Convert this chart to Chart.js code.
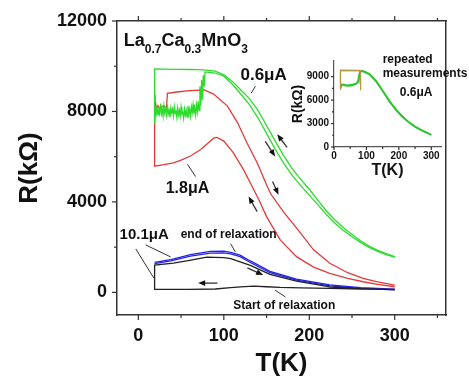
<!DOCTYPE html>
<html>
<head>
<meta charset="utf-8">
<script src="https://cdn.jsdelivr.net/npm/chart.js@4.4.1/dist/chart.umd.min.js"></script>
<style>
  body { margin: 0; background: #fff; }
  #wrap { position: relative; width: 469px; height: 377px; }
  #main { position: absolute; left: 0; top: 0; }
  #inset { position: absolute; left: 285px; top: 50px; }
</style>
</head>
<body>
<div id="wrap">
  <canvas id="main" width="469" height="377"></canvas>
  <canvas id="inset" width="184" height="135"></canvas>
</div>
<script>
// ---- values: T in K, R in kOhm ----
const xTicks = [0, 100, 200, 300];
const xMinor = [50, 150, 250, 350];
const yTicks = [0, 4000, 8000, 12000];
const yMinor = [2000, 6000, 10000];

// 0.6 uA, outer branch (300 K down to 19 K, then the drop)
const greenOuterT = [300, 290, 280, 270, 260, 250, 240, 230, 220, 210, 200, 190, 180, 170, 160, 150, 140, 130, 120, 110, 100, 90, 80, 70, 60, 50, 40, 30, 19, 19];
const greenOuterR = [1580, 1710, 1860, 2050, 2280, 2560, 2860, 3200, 3600, 4080, 4560, 5000, 5470, 6050, 6700, 7380, 8050, 8570, 8950, 9330, 9620, 9780, 9830, 9850, 9855, 9860, 9865, 9870, 9880, 7450];
// 0.6 uA, noisy low-T part
const greenNoiseT = [19, 20, 21, 22, 23, 24, 25, 26, 27, 28, 29, 30, 31, 32, 33, 34, 35, 36, 37, 38, 39, 40, 41, 42, 43, 44, 45, 46, 47, 48, 49, 50, 51, 52, 53, 54, 55, 56, 57, 58, 59, 60, 61, 62, 63, 64, 65, 66, 67, 68, 69, 70, 71, 72, 73, 74, 75, 76, 77, 78];
const greenNoiseR = [7450, 8250, 7900, 8150, 7850, 8200, 7950, 8350, 7900, 8100, 7800, 8250, 7950, 8100, 7850, 8300, 7900, 8050, 7750, 8150, 7950, 8100, 7800, 8200, 7900, 8050, 7750, 8150, 7850, 8050, 7800, 8200, 7900, 7950, 7700, 8100, 7850, 8050, 7750, 8250, 7900, 8100, 7800, 8200, 7950, 8300, 7900, 8150, 7850, 8300, 8000, 8450, 8050, 9100, 8250, 9400, 8500, 9600, 9100, 9750];
// 0.6 uA, inner branch back up to 300 K
const greenInnerT = [85, 90, 100, 110, 120, 130, 140, 150, 160, 170, 180, 190, 200, 210, 220, 230, 240, 250, 260, 270, 280, 290, 300];
const greenInnerR = [9720, 9700, 9560, 9200, 8760, 8300, 7720, 7030, 6340, 5720, 5170, 4720, 4300, 3880, 3440, 3060, 2740, 2460, 2210, 1990, 1810, 1670, 1560];

// 1.8 uA
const redUpperT = [300, 280, 263, 245, 224, 205, 185, 170, 155, 150, 139, 127, 116, 104, 88, 77, 60, 45, 34, 33, 31, 29, 27, 25, 23, 21, 20, 19.5, 19, 19];
const redUpperR = [320, 460, 620, 870, 1290, 1880, 2850, 3550, 4350, 4760, 5730, 6620, 7510, 8250, 8770, 8950, 8920, 8860, 8800, 8200, 8150, 8250, 8200, 8100, 8250, 8150, 8400, 8750, 8600, 5580];
const redLowerT = [19, 30, 41, 50, 61, 73, 80, 88, 92, 100, 111, 123, 135, 141, 150, 166, 185, 205, 224, 245, 263, 280, 300];
const redLowerR = [5580, 5650, 5730, 5850, 6030, 6320, 6550, 6820, 6850, 6690, 6180, 5430, 4550, 4100, 3350, 2320, 1580, 1120, 840, 620, 470, 350, 250];

// 10.1 uA
const blueT = [19, 38, 61, 84, 100, 108, 119, 131, 154, 185, 224, 260, 300];
const blueAR = [1330, 1450, 1670, 1810, 1820, 1770, 1650, 1390, 930, 590, 330, 210, 140];
const blueBR = [1270, 1390, 1600, 1740, 1750, 1700, 1580, 1320, 870, 540, 290, 180, 110];

// relaxation (black)
const blackLowT = [300, 260, 224, 190, 166, 150, 135, 120, 108, 90, 60, 40, 19, 19];
const blackLowR = [130, 150, 180, 200, 220, 250, 280, 240, 210, 150, 130, 130, 130, 1210];
const blackHighT = [41, 60, 80, 100, 108, 120, 131, 154, 185, 224, 260, 300];
const blackHighR = [1290, 1420, 1560, 1540, 1490, 1340, 1190, 800, 500, 240, 160, 120];

// inset: repeated measurements at 0.6 uA
const insetXTicks = [0, 100, 200, 300];
const insetXMinor = [50, 150, 250];
const insetYTicks = [0, 3000, 6000, 9000];
const insetYMinor = [1500, 4500, 7500];
const insetAT = [300, 280, 260, 240, 220, 200, 180, 160, 140, 120, 100, 90, 80, 60, 40, 20, 20, 23, 26, 30, 35, 40, 45, 50, 55, 60, 65, 70, 74, 77, 80];
const insetAR = [1600, 1900, 2300, 2850, 3550, 4450, 5450, 6600, 7900, 9000, 9600, 9720, 9740, 9740, 9740, 9740, 7300, 8050, 7900, 8000, 7800, 7850, 7800, 7850, 7800, 7900, 8000, 8200, 8600, 8300, 9700];
const insetBT = [20, 25, 30, 35, 40, 45, 50, 55, 60, 65, 70, 75, 78, 82, 90, 110, 130, 150, 170, 190, 210, 230, 250, 270, 300];
const insetBR = [7600, 7950, 8000, 7900, 7900, 7850, 7950, 7900, 8000, 8050, 8150, 8400, 9300, 9700, 9680, 9300, 8400, 7200, 5900, 4800, 3900, 3200, 2600, 2150, 1550];
const insetCT = [20, 20, 82, 82];
const insetCR = [7400, 9820, 9800, 7250];

const pts = (T, R) => T.map((t, i) => ({ x: t, y: R[i] }));
const FONT = '"Liberation Sans", Arial, sans-serif';

// draws tick marks, arrows, pointer lines and text labels in data coordinates
const extras = {
  id: 'extras',
  afterDraw(chart, args, opts) {
    const ctx = chart.ctx;
    const a = chart.chartArea;
    const px = v => chart.scales.x.getPixelForValue(v);
    const py = v => chart.scales.y.getPixelForValue(v);
    ctx.save();
    ctx.strokeStyle = '#333';
    ctx.fillStyle = '#111';
    ctx.lineWidth = 1.2;
    (opts.ticks || []).forEach(t => {
      t.values.forEach(v => {
        ctx.beginPath();
        if (t.side === 'bottom') { ctx.moveTo(px(v), a.bottom); ctx.lineTo(px(v), a.bottom + t.len); }
        if (t.side === 'top') { ctx.moveTo(px(v), a.top); ctx.lineTo(px(v), a.top - t.len); }
        if (t.side === 'left') { ctx.moveTo(a.left, py(v)); ctx.lineTo(a.left - t.len, py(v)); }
        ctx.stroke();
      });
    });
    ctx.lineWidth = 1;
    (opts.leaders || []).forEach(l => {
      ctx.beginPath();
      ctx.moveTo(px(l[0]), py(l[1]));
      ctx.lineTo(px(l[2]), py(l[3]));
      ctx.stroke();
    });
    ctx.lineWidth = 1.3;
    (opts.arrows || []).forEach(l => {
      const x0 = px(l[0]), y0 = py(l[1]), x1 = px(l[2]), y1 = py(l[3]);
      const ang = Math.atan2(y1 - y0, x1 - x0);
      ctx.beginPath();
      ctx.moveTo(x0, y0);
      ctx.lineTo(x1 - 4 * Math.cos(ang), y1 - 4 * Math.sin(ang));
      ctx.stroke();
      ctx.beginPath();
      ctx.moveTo(x1, y1);
      ctx.lineTo(x1 - 7 * Math.cos(ang) + 2.8 * Math.sin(ang), y1 - 7 * Math.sin(ang) - 2.8 * Math.cos(ang));
      ctx.lineTo(x1 - 7 * Math.cos(ang) - 2.8 * Math.sin(ang), y1 - 7 * Math.sin(ang) + 2.8 * Math.cos(ang));
      ctx.closePath();
      ctx.fill();
    });
    ctx.textBaseline = 'alphabetic';
    ctx.textAlign = 'left';
    (opts.texts || []).forEach(t => {
      let x = px(t.x);
      const y = py(t.y);
      t.parts.forEach(p => {
        ctx.font = 'bold ' + (p.sub ? t.sub : t.size) + 'px ' + FONT;
        ctx.fillText(p.t, x, y + (p.sub ? t.drop : 0));
        x += ctx.measureText(p.t).width;
      });
    });
    ctx.restore();
  }
};

const frame = { color: '#333', width: 1.5 };
const noGrid = { display: false, drawTicks: false };

new Chart(document.getElementById('main'), {
  type: 'line',
  data: {
    datasets: [
      { data: pts(greenOuterT, greenOuterR), borderColor: '#2bdc2b' },
      { data: pts(greenNoiseT, greenNoiseR).concat(pts(greenInnerT, greenInnerR)), borderColor: '#2bdc2b' },
      { data: pts(redUpperT, redUpperR).concat(pts(redLowerT, redLowerR)), borderColor: '#e63a3a' },
      { data: pts(blackLowT, blackLowR).concat(pts(blackHighT, blackHighR)), borderColor: '#222' },
      { data: pts(blueT, blueAR), borderColor: '#2323e0' },
      { data: pts(blueT, blueBR), borderColor: '#2323e0' }
    ]
  },
  options: {
    responsive: false,
    animation: false,
    layout: { padding: 0 },
    elements: { point: { radius: 0 }, line: { tension: 0, borderWidth: 1.3, fill: false } },
    plugins: {
      legend: { display: false },
      tooltip: { enabled: false },
      extras: {
        ticks: [
          { side: 'bottom', values: xTicks, len: 5 },
          { side: 'bottom', values: xMinor, len: 3 },
          { side: 'top', values: xTicks, len: 5 },
          { side: 'top', values: xMinor, len: 3 },
          { side: 'left', values: yTicks, len: 5 },
          { side: 'left', values: yMinor, len: 3 }
        ],
        leaders: [
          [137, 9120, 132, 8810],
          [57.5, 5660, 67, 5120],
          [-3, 1920, 18, 640],
          [8.5, 2100, 37.7, 1570],
          [108, 2150, 113.5, 1790],
          [160, 100, 172, -200]
        ],
        arrows: [
          [174, 6410, 162.5, 6990],
          [148.5, 6680, 160, 6010],
          [139, 3570, 129, 4240],
          [157, 4900, 164, 4320],
          [127.5, 1080, 146, 770],
          [92.5, 410, 70, 410]
        ],
        texts: [
          { x: -17, y: 10900, size: 18, sub: 12, drop: 7, parts: [{ t: 'La' }, { t: '0.7', sub: true }, { t: 'Ca' }, { t: '0.3', sub: true }, { t: 'MnO' }, { t: '3', sub: true }] },
          { x: 119.5, y: 9400, size: 17, parts: [{ t: '0.6\u03bcA' }] },
          { x: 32, y: 4400, size: 16, parts: [{ t: '1.8\u03bcA' }] },
          { x: -22, y: 2370, size: 15, parts: [{ t: '10.1\u03bcA' }] },
          { x: 49.5, y: 2400, size: 12, parts: [{ t: 'end of relaxation' }] },
          { x: 111, y: -750, size: 12, parts: [{ t: 'Start of relaxation' }] }
        ]
      }
    },
    scales: {
      x: {
        type: 'linear', position: 'bottom', min: -25, max: 360,
        afterFit: s => { s.height = 62; },
        afterBuildTicks: s => { s.ticks = xTicks.map(v => ({ value: v })); },
        grid: noGrid, border: frame,
        ticks: { color: '#111', padding: 10, maxRotation: 0, font: { family: FONT, size: 18, weight: 'bold' }, callback: v => String(v) },
        title: { display: true, text: 'T(K)', color: '#111', padding: { top: 0, bottom: 0 }, font: { family: FONT, size: 26, weight: 'bold', lineHeight: 1 } }
      },
      x2: {
        type: 'linear', position: 'top', min: -25, max: 360,
        afterFit: s => { s.height = 21; },
        grid: noGrid, border: frame, ticks: { display: false }
      },
      y: {
        type: 'linear', position: 'left', min: -1000, max: 12000,
        afterFit: s => { s.width = 117; },
        afterBuildTicks: s => { s.ticks = yTicks.map(v => ({ value: v })); },
        grid: noGrid, border: frame,
        ticks: { color: '#111', padding: 10, font: { family: FONT, size: 18, weight: 'bold' }, callback: v => String(v) },
        title: { display: true, text: 'R(k\u03a9)', color: '#111', padding: { top: 17, bottom: 0 }, font: { family: FONT, size: 26, weight: 'bold', lineHeight: 1 } }
      },
      y2: {
        type: 'linear', position: 'right', min: -1000, max: 12000,
        afterFit: s => { s.width = 23; },
        grid: noGrid, border: frame, ticks: { display: false }
      }
    }
  },
  plugins: [extras]
});

new Chart(document.getElementById('inset'), {
  type: 'line',
  data: {
    datasets: [
      { data: pts(insetCT, insetCR), borderColor: '#b49a45', borderWidth: 1.3 },
      { data: pts(insetBT, insetBR), borderColor: '#2fc42f', borderWidth: 2 },
      { data: pts(insetAT, insetAR), borderColor: '#5ee65e', borderWidth: 1.2 }
    ]
  },
  options: {
    responsive: false,
    animation: false,
    layout: { padding: { top: 7, right: 28, left: 0, bottom: 0 } },
    elements: { point: { radius: 0 }, line: { tension: 0, fill: false } },
    plugins: {
      legend: { display: false },
      tooltip: { enabled: false },
      extras: {
        ticks: [
          { side: 'bottom', values: insetXTicks, len: 3 },
          { side: 'bottom', values: insetXMinor, len: 2 },
          { side: 'left', values: insetYTicks, len: 3 },
          { side: 'left', values: insetYMinor, len: 2 }
        ],
        texts: [
          { x: 150, y: 10700, size: 12, parts: [{ t: 'repeated' }] },
          { x: 150, y: 8900, size: 12, parts: [{ t: 'measurements' }] },
          { x: 203, y: 6500, size: 12, parts: [{ t: '0.6\u03bcA' }] }
        ]
      }
    },
    scales: {
      x: {
        type: 'linear', position: 'bottom', min: 0, max: 330,
        afterFit: s => { s.height = 38; },
        afterBuildTicks: s => { s.ticks = insetXTicks.map(v => ({ value: v })); },
        grid: noGrid, border: { color: '#555', width: 1.2 },
        ticks: { color: '#111', padding: 3, maxRotation: 0, font: { family: FONT, size: 10, weight: 'bold' }, callback: v => String(v) },
        title: { display: true, text: 'T(K)', color: '#111', padding: { top: 0, bottom: 6 }, font: { family: FONT, size: 16, weight: 'bold', lineHeight: 1 } }
      },
      y: {
        type: 'linear', position: 'left', min: 0, max: 11000,
        afterFit: s => { s.width = 49; },
        afterBuildTicks: s => { s.ticks = insetYTicks.map(v => ({ value: v })); },
        grid: noGrid, border: { color: '#555', width: 1.2 },
        ticks: { color: '#111', padding: 5, font: { family: FONT, size: 10, weight: 'bold' }, callback: v => String(v) },
        title: { display: true, text: 'R(k\u03a9)', color: '#111', padding: { top: 6, bottom: 0 }, font: { family: FONT, size: 14, weight: 'bold', lineHeight: 1 } }
      }
    }
  },
  plugins: [extras]
});
</script>
</body>
</html>
